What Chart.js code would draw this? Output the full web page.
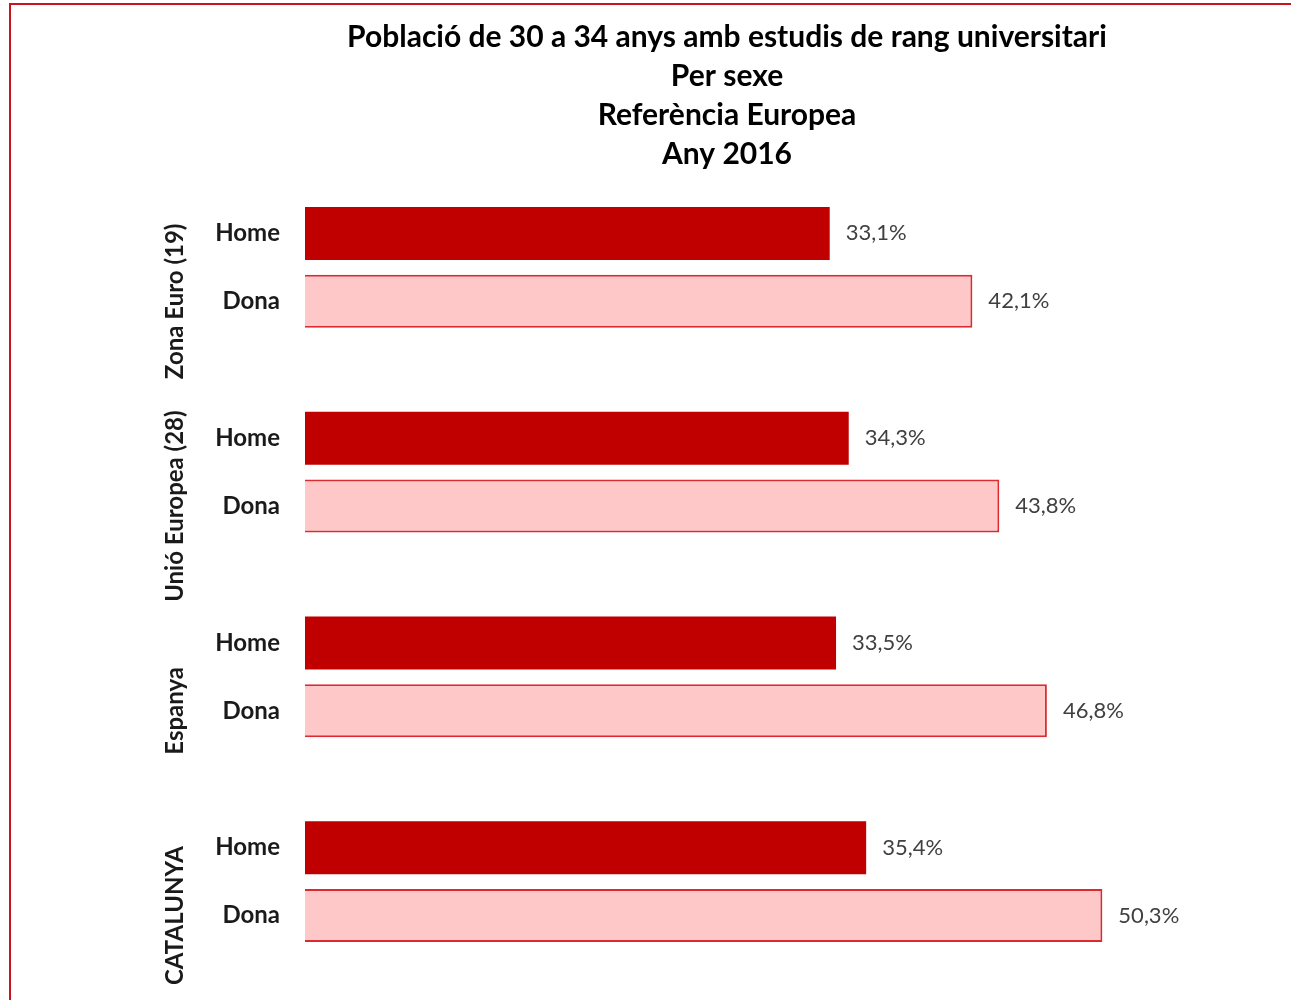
<!DOCTYPE html>
<html>
<head>
<meta charset="utf-8">
<script src="https://cdn.jsdelivr.net/npm/chart.js@4/dist/chart.umd.min.js"></script>
<style>
  body { margin: 0; background: #fff; overflow: hidden; }
  #frame {
    position: absolute; left: 9px; top: 3px; width: 1400px; height: 1100px;
    border-left: 2px solid #C8141E; border-top: 2px solid #C8141E;
  }
  #wrap { position: absolute; left: 163px; top: 0; width: 1128px; height: 1000px; }
</style>
</head>
<body>
<div id="frame"></div>
<div id="wrap"><canvas id="myChart" width="1128" height="1000"></canvas></div>
<script>
const titleLines = [
  'Població de 30 a 34 anys amb estudis de rang universitari',
  'Per sexe',
  'Referència Europea',
  'Any 2016'
];
const groups = ['Zona Euro (19)', 'Unió Europea (28)', 'Espanya', 'CATALUNYA'];
const seriesNames = ['Home', 'Dona'];
const homeValues = [33.1, 34.3, 33.5, 35.4];
const donaValues = [42.1, 43.8, 46.8, 50.3];

const fmt = v => v.toFixed(1).replace('.', ',') + '%';

// labels next to the bars, sex names and rotated group names
const labelPlugin = {
  id: 'labels',
  afterDatasetsDraw(chart) {
    const ctx = chart.ctx;
    const area = chart.chartArea;
    ctx.save();
    chart.data.datasets.forEach((ds, di) => {
      const meta = chart.getDatasetMeta(di);
      meta.data.forEach((bar, i) => {
        ctx.font = '22px Lato';
        ctx.fillStyle = '#404040';
        ctx.textAlign = 'left';
        ctx.textBaseline = 'middle';
        ctx.fillText(fmt(ds.data[i]), bar.x + 16, bar.y);

        ctx.font = 'bold 24px Lato';
        ctx.fillStyle = '#1a1a1a';
        ctx.textAlign = 'right';
        ctx.fillText(ds.label, area.left - 25, bar.y);
      });
    });
    // group names, centred on the Dona row
    const donaMeta = chart.getDatasetMeta(1);
    groups.forEach((g, i) => {
      const y = donaMeta.data[i].y;
      ctx.save();
      ctx.translate(12, y);
      ctx.rotate(-Math.PI / 2);
      ctx.font = 'bold 24px Lato';
      ctx.fillStyle = '#1a1a1a';
      ctx.textAlign = 'center';
      ctx.textBaseline = 'middle';
      ctx.fillText(g, 0, 0);
      ctx.restore();
    });
    ctx.restore();
  }
};

const ctx = document.getElementById('myChart').getContext('2d');
new Chart(ctx, {
  type: 'bar',
  data: {
    labels: groups,
    datasets: [
      {
        label: seriesNames[0],
        data: homeValues,
        backgroundColor: '#C00000',
        borderColor: '#C00000',
        borderWidth: 0
      },
      {
        label: seriesNames[1],
        data: donaValues,
        backgroundColor: '#FFC8C8',
        borderColor: '#DC2A30',
        borderWidth: 2
      }
    ]
  },
  options: {
    indexAxis: 'y',
    responsive: false,
    devicePixelRatio: 1,
    animation: false,
    categoryPercentage: 0.664,
    barPercentage: 0.78,
    layout: { padding: { left: 0, right: 0, top: 0, bottom: 16 } },
    plugins: {
      legend: { display: false },
      tooltip: { enabled: false },
      title: {
        display: true,
        text: titleLines,
        color: '#000',
        font: { family: 'Lato', size: 30, weight: 'bold', lineHeight: 1.3 },
        padding: { top: 18, bottom: -9 }
      }
    },
    scales: {
      x: { display: false, min: 0, max: 62.2 },
      y: {
        display: true,
        ticks: { display: false },
        grid: { display: false },
        border: { display: false },
        afterFit(scale) { scale.width = 142; }
      }
    }
  },
  plugins: [labelPlugin]
});
</script>
</body>
</html>
